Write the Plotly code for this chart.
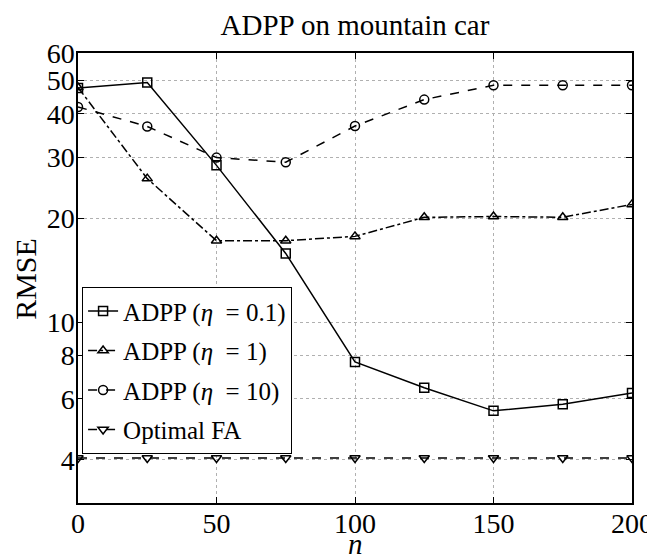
import plotly.graph_objects as go

x_vals = [0, 25, 50, 75, 100, 125, 150, 175, 200]
adpp_01 = [47.5, 49.3, 28.4, 15.8, 7.67, 6.46, 5.54, 5.79, 6.24]
adpp_1 = [47.7, 26.0, 17.2, 17.2, 17.7, 20.1, 20.2, 20.1, 21.9]
adpp_10 = [41.9, 36.8, 29.9, 29.0, 36.9, 44.0, 48.4, 48.4, 48.4]
optimal_fa = [4.05, 4.05, 4.05, 4.05, 4.05, 4.05, 4.05, 4.05, 4.05]

names = ["ADPP (<i>η</i>\u00a0\u00a0= 0.1)", "ADPP (<i>η</i>\u00a0\u00a0= 1)",
         "ADPP (<i>η</i>\u00a0\u00a0= 10)", "Optimal FA"]
y_ticks = [4, 6, 8, 10, 20, 30, 40, 50, 60]
x_ticks = [0, 50, 100, 150, 200]

series = [
    (adpp_01, "solid", "square-open"),
    (adpp_1, "dashdot", "triangle-up-open"),
    (adpp_10, "dash", "circle-open"),
    (optimal_fa, "dash", "triangle-down-open"),
]

fig = go.Figure()
for i, ((vals, dash, sym), name) in enumerate(zip(series, names)):
    fig.add_trace(go.Scatter(
        x=x_vals, y=vals, name=name, mode="lines+markers", legendgroup=f"g{i}",
        line=dict(color="black", width=1.5, dash=dash),
        marker=dict(symbol=sym, size=9, color="black", line=dict(width=1.5, color="black")),
    ))

font = "Liberation Serif, Times New Roman, serif"
# page body has an 8px margin, so the figure is sized/offset accordingly
fig.update_layout(
    width=647, height=552,
    margin=dict(l=70, r=23, t=45, b=57, autoexpand=False),
    paper_bgcolor="white", plot_bgcolor="white",
    font=dict(family=font, color="black", size=24),
    title=dict(text="ADPP on mountain car", x=0.5, xref="paper", y=0.969, yanchor="middle",
               font=dict(size=29, family=font, color="black")),
    showlegend=True,
    legend=dict(x=0.007, y=0.48, xanchor="left", yanchor="top",
                bgcolor="white", bordercolor="black", borderwidth=1.2,
                font=dict(size=25, family=font, color="black"),
                tracegroupgap=4, itemwidth=30),
    annotations=[
        dict(text="<i>n</i>", xref="paper", yref="paper", x=0.5, y=-0.092,
             xanchor="center", yanchor="middle", showarrow=False,
             font=dict(size=29, family=font, color="black")),
        dict(text="RMSE", xref="paper", yref="paper", x=-0.095, y=0.499,
             xanchor="center", yanchor="middle", showarrow=False, textangle=-90,
             font=dict(size=30, family=font, color="black")),
    ],
)
fig.update_xaxes(
    range=[0, 200], tickvals=x_ticks, ticks="inside", ticklen=6, tickcolor="black",
    showline=True, linecolor="black", linewidth=1.5, mirror="ticks", automargin=False,
    showgrid=True, gridcolor="#b0b0b0", griddash="dot", gridwidth=1,
    zeroline=False, tickfont=dict(size=28), ticklabelstandoff=-5,
)
fig.update_yaxes(
    type="log", range=[0.47712, 1.77815], tickvals=y_ticks, ticktext=[str(v) for v in y_ticks],
    ticks="inside", ticklen=6, tickcolor="black", automargin=False,
    showline=True, linecolor="black", linewidth=1.5, mirror="ticks",
    showgrid=True, gridcolor="#b0b0b0", griddash="dot", gridwidth=1,
    zeroline=False, tickfont=dict(size=28), ticklabelstandoff=-4,
)
fig.write_html("out.html")
